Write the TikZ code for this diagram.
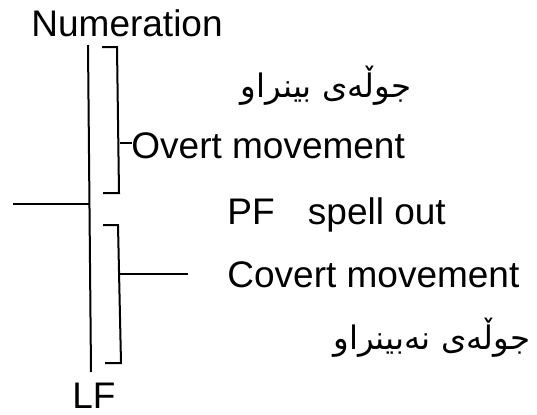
\documentclass[tikz,border=0pt]{standalone}
\usepackage{fontspec}
\setmainfont{Liberation Sans}
\newfontfamily\kurdfont[Script=Arabic]{DejaVu Sans}
\TeXXeTstate=1
\usetikzlibrary{positioning}

\begin{document}
\begin{tikzpicture}[
      x=0.5pt,y=-0.5pt,
      lbl/.style={inner sep=0pt,anchor=base west,font=\fontsize{18.5}{22}\selectfont},
      kurd/.style={inner sep=0pt,anchor=base east,font=\fontsize{16.2}{20}\kurdfont},
      ln/.style={line width=1pt,black}]
    \useasboundingbox (0,0) rectangle (537,414);
    % labels
    \node[lbl] (num) at (31,36) {Numeration};
    \node[kurd] (seen) at (412,97) {\beginR جوڵەی بینراو\endR};
    \node[lbl] (overt) at (131,158) {Overt movement};
    \node[lbl] (pf) at (227,224) {PF\hspace{0.9em}spell out};
    \node[lbl] (covert) at (227,287) {Covert movement};
    \node[kurd] (unseen) at (531,349) {\beginR جوڵەی نەبینراو\endR};
    \node[lbl] (lf) at (72,408) {LF};
    % line ends
    \coordinate (stemtop) at (88,45);
    \coordinate (stembot) at (91,372);
    \coordinate (lend) at (13,204);
    \coordinate (ljoin) at (89,204);
    \coordinate (ua) at (102,47);
    \coordinate (ub) at (117,47);
    \coordinate (uc) at (119,193);
    \coordinate (ud) at (103,193);
    \coordinate (ujoin) at (120,143);
    \coordinate (uend) at (132,143);
    \coordinate (da) at (103,225);
    \coordinate (db) at (118,225);
    \coordinate (dc) at (121,363);
    \coordinate (dd) at (105,363);
    \coordinate (djoin) at (120,274);
    \coordinate (dend) at (188,274);
    \draw[ln] (stemtop) -- (stembot);
    \draw[ln] (lend) -- (ljoin);
    \draw[ln] (ua) -- (ub) -- (uc) -- (ud);
    \draw[ln] (ujoin) -- (uend);
    \draw[ln] (da) -- (db) -- (dc) -- (dd);
    \draw[ln] (djoin) -- (dend);
  \end{tikzpicture}
\end{document}
